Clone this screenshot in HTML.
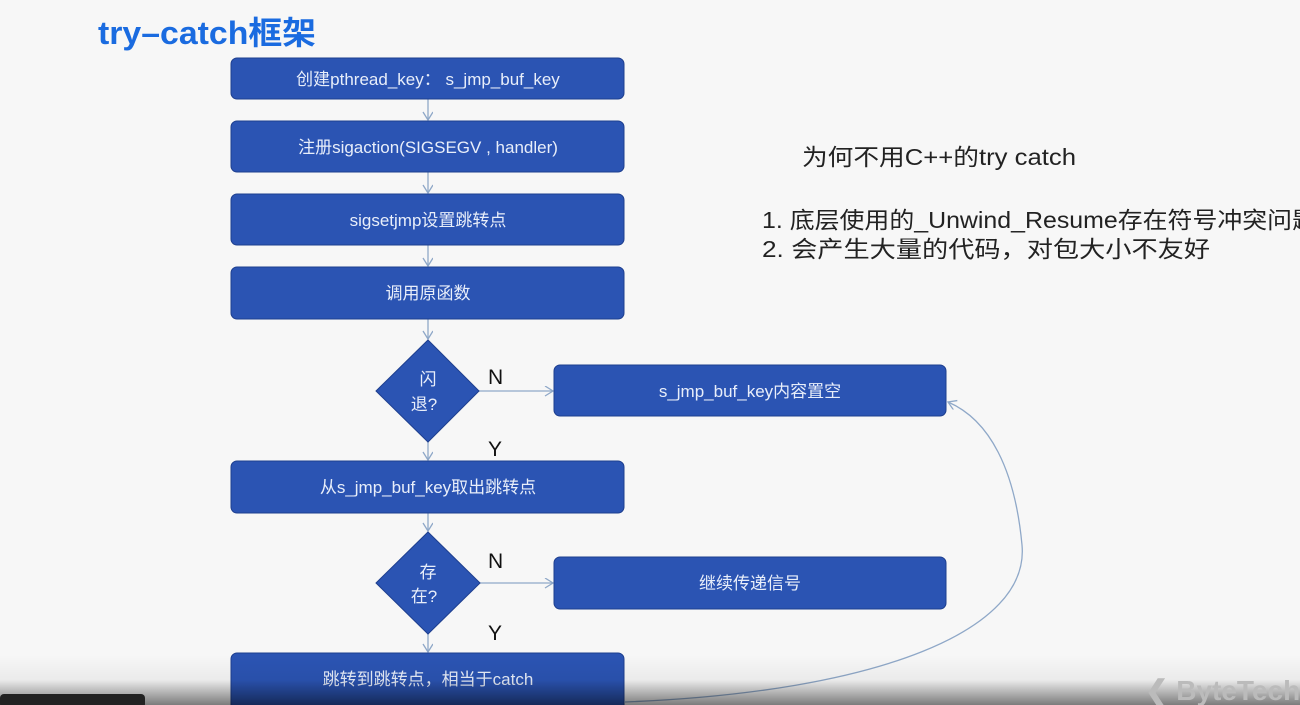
<!DOCTYPE html>
<html><head><meta charset="utf-8"><style>
html,body{margin:0;padding:0;background:#f7f7f7;width:1300px;height:705px;overflow:hidden}
svg{display:block}
text{font-family:"Liberation Sans","Noto Sans CJK SC",sans-serif}
</style></head><body>
<svg width="1300" height="705" viewBox="0 0 1300 705" xmlns="http://www.w3.org/2000/svg">
<defs>
<linearGradient id="bot" x1="0" y1="0" x2="0" y2="1">
<stop offset="0" stop-color="#000" stop-opacity="0"/>
<stop offset="0.5" stop-color="#000" stop-opacity="0.05"/>
<stop offset="1" stop-color="#000" stop-opacity="0.5"/>
</linearGradient>
<marker id="ar" markerWidth="12" markerHeight="12" refX="9" refY="5" orient="auto" markerUnits="userSpaceOnUse">
<path d="M1,0 L9,5 L1,10" fill="none" stroke="#8fa8c8" stroke-width="1.3"/>
</marker>
</defs>
<rect width="1300" height="705" fill="#f7f7f7"/>
<text x="98" y="44" font-size="32" font-weight="bold" fill="#1a6be0" textLength="218" lengthAdjust="spacingAndGlyphs">try–catch框架</text>

<g stroke="#8fa8c8" stroke-width="1.3" fill="none" marker-end="url(#ar)">
<line x1="428" y1="99" x2="428" y2="120"/>
<line x1="428" y1="172" x2="428" y2="193"/>
<line x1="428" y1="245" x2="428" y2="266"/>
<line x1="428" y1="319" x2="428" y2="339"/>
<line x1="479" y1="391" x2="553" y2="391"/>
<line x1="428" y1="442" x2="428" y2="460"/>
<line x1="428" y1="513" x2="428" y2="531"/>
<line x1="480" y1="583" x2="553" y2="583"/>
<line x1="428" y1="634" x2="428" y2="652"/>
<path d="M625 702 C 880 692, 1030 630, 1022 545 C 1015 470, 990 420, 948 402"/>
</g>

<g fill="#2b54b3" stroke="#1e3f8f" stroke-width="1">
<rect x="231" y="58" width="393" height="41" rx="6"/>
<rect x="231" y="121" width="393" height="51" rx="6"/>
<rect x="231" y="194" width="393" height="51" rx="6"/>
<rect x="231" y="267" width="393" height="52" rx="6"/>
<polygon points="428,340 479,391 428,442 376,391"/>
<rect x="554" y="365" width="392" height="51" rx="6"/>
<rect x="231" y="461" width="393" height="52" rx="6"/>
<polygon points="428,532 480,583 428,634 376,583"/>
<rect x="554" y="557" width="392" height="52" rx="6"/>
<rect x="231" y="653" width="393" height="60" rx="6"/>
</g>

<g fill="#e8eefa" font-size="17" text-anchor="middle">
<text x="428" y="85">创建pthread_key： s_jmp_buf_key</text>
<text x="428" y="153">注册sigaction(SIGSEGV , handler)</text>
<text x="428" y="226">sigsetjmp设置跳转点</text>
<text x="428" y="299">调用原函数</text>
<text x="428" y="385">闪</text>
<text x="424" y="410">退?</text>
<text x="750" y="397">s_jmp_buf_key内容置空</text>
<text x="428" y="493">从s_jmp_buf_key取出跳转点</text>
<text x="428" y="578">存</text>
<text x="424" y="602">在?</text>
<text x="750" y="589">继续传递信号</text>
<text x="428" y="685">跳转到跳转点，相当于catch</text>
</g>

<g fill="#111" font-size="21">
<text x="488" y="384">N</text>
<text x="488" y="456">Y</text>
<text x="488" y="568">N</text>
<text x="488" y="640">Y</text>
</g>

<g fill="#222" font-size="23">
<text x="802" y="165" textLength="274" lengthAdjust="spacingAndGlyphs">为何不用C++的try  catch</text>
<text x="762" y="228" textLength="555" lengthAdjust="spacingAndGlyphs">1.  底层使用的_Unwind_Resume存在符号冲突问题</text>
<text x="762" y="257" textLength="448" lengthAdjust="spacingAndGlyphs">2.  会产生大量的代码，对包大小不友好</text>
</g>

<rect x="0" y="655" width="1300" height="50" fill="url(#bot)"/>
<text x="1145" y="700" font-size="28" fill="#bbb" font-weight="bold">❮ ByteTech</text>
<rect x="0" y="694" width="145" height="14" rx="4" fill="#222"/>
</svg>
</body></html>
